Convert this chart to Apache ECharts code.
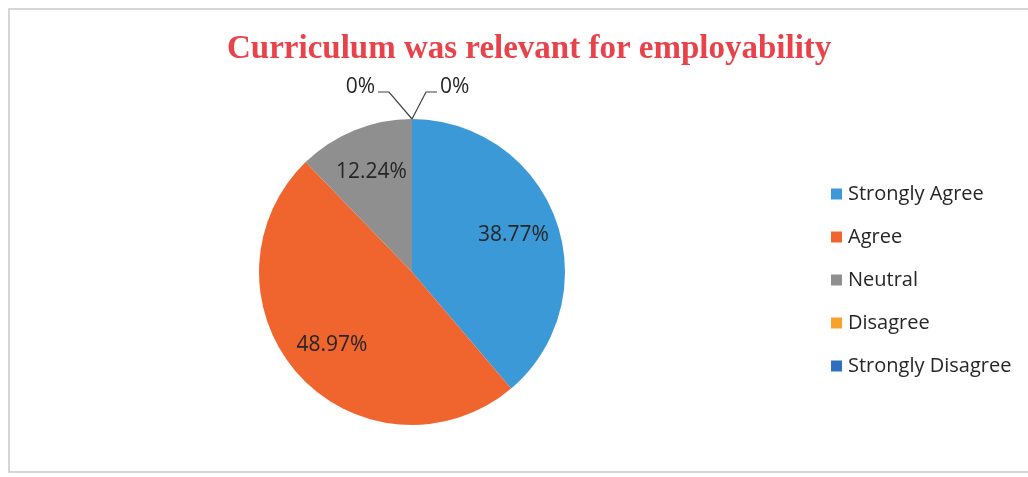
<!DOCTYPE html>
<html>
<head>
<meta charset="utf-8">
<script src="https://cdn.jsdelivr.net/npm/echarts@6/dist/echarts.min.js"></script>
<style>
  html, body { margin: 0; padding: 0; background: #fff; }
  #chart { width: 1028px; height: 477px; }
</style>
</head>
<body>
<div id="chart"></div>
<script>
// 数据
var categories = ["Strongly Agree", "Agree", "Neutral", "Disagree", "Strongly Disagree"];
var values = [38.77, 48.97, 12.24, 0, 0];
var colors = ["#3b99d8", "#f0642e", "#8f8f8f", "#f8a22c", "#2e6fbf"];

var pieCenter = [412, 272];
var pieRadius = 153;

var chart = echarts.init(document.getElementById("chart"));

var data = categories.map(function (name, i) {
  var item = { name: name, value: values[i], itemStyle: { color: colors[i] } };
  if (values[i] === 0) {
    item.label = { position: "outside" };
    item.labelLine = { show: true };
  }
  return item;
});

var option = {
  backgroundColor: "#fff",
  animation: false,
  title: {
    text: "Curriculum was relevant for employability",
    left: 222,
    top: 28,
    textStyle: {
      fontFamily: "Liberation Serif",
      fontWeight: "bold",
      fontSize: 33,
      color: "#e8424b",
    },
  },
  graphic: [
    {
      type: "rect",
      shape: { x: 9, y: 9, width: 1040, height: 463 },
      style: { fill: "none", stroke: "#c9c9c9", lineWidth: 1.5 },
      silent: true,
    },
  ],
  legend: {
    orient: "vertical",
    left: 826,
    top: 178,
    itemWidth: 11,
    itemHeight: 11,
    itemGap: 21,
    icon: "rect",
    textStyle: {
      fontFamily: "Open Sans",
      fontSize: 20,
      lineHeight: 22,
      color: "#262626",
      padding: [0, 0, 0, 1],
    },
    data: categories,
  },
  series: [
    {
      type: "pie",
      center: pieCenter,
      radius: pieRadius,
      startAngle: 90,
      clockwise: true,
      avoidLabelOverlap: false,
      data: data,
      label: {
        show: true,
        position: "inside",
        formatter: function (p) {
          return p.value + "%";
        },
        fontFamily: "Open Sans",
        fontSize: 21,
        color: "#262626",
      },
      labelLine: {
        show: false,
        length: 10,
        length2: 10,
        lineStyle: { color: "#404040", width: 1.2 },
      },
      labelLayout: function (params) {
        var i = params.dataIndex;
        if (values[i] === 0) {
          var p0 = params.labelLinePoints ? params.labelLinePoints[0] : [pieCenter[0], pieCenter[1] - pieRadius];
          if (i === 3) {
            return {
              x: p0[0] - 37,
              y: p0[1] - 32,
              align: "right",
              verticalAlign: "middle",
              labelLinePoints: [p0, [p0[0] - 23, p0[1] - 27], [p0[0] - 34, p0[1] - 27]],
            };
          }
          return {
            x: p0[0] + 28,
            y: p0[1] - 32,
            align: "left",
            verticalAlign: "middle",
            labelLinePoints: [p0, [p0[0] + 14, p0[1] - 27], [p0[0] + 25, p0[1] - 27]],
          };
        }
        // 内部标签往外挪一点 (约 0.7r)
        var r = params.labelRect;
        var lx = r.x + r.width / 2;
        var ly = r.y + r.height / 2;
        return {
          dx: (lx - pieCenter[0]) * 0.36,
          dy: (ly - pieCenter[1]) * 0.36,
        };
      },
    },
  ],
};

chart.setOption(option);
window.addEventListener("resize", function () {
  chart.resize();
});
</script>
</body>
</html>
